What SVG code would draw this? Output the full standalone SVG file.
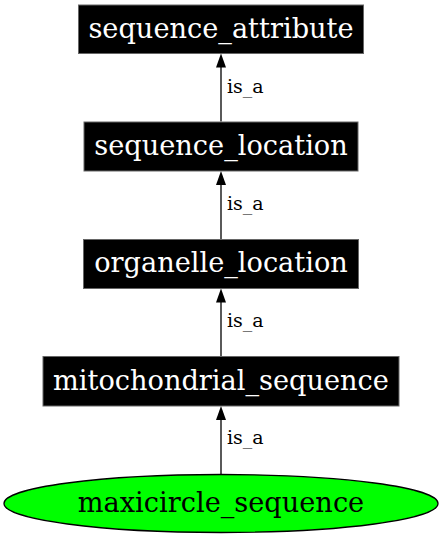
<svg xmlns="http://www.w3.org/2000/svg" width="443" height="536" viewBox="0 0 443 536">
<defs>
<style>
.box{fill:#000;stroke:#666;stroke-width:1}
.nt{font-family:"DejaVu Serif",serif;font-size:27.2px;fill:#fff;text-anchor:middle}
.et{font-family:"DejaVu Serif",serif;font-size:19px;fill:#000}
.edge{stroke:#000;stroke-width:1.3;fill:none}
</style>
</defs>
<rect width="443" height="536" fill="#fff"/>
<g id="connectors">
<path class="edge" d="M221,121.5 L221,67" />
<path d="M216,67.5 L221,53.5 L226,67.5 Z" fill="#000"/>
<text class="et" x="227" y="93">is_a</text>
<path class="edge" d="M221,239 L221,184.5" />
<path d="M216,185 L221,171 L226,185 Z" fill="#000"/>
<text class="et" x="227" y="210">is_a</text>
<path class="edge" d="M221,356.5 L221,302" />
<path d="M216,302.5 L221,288.5 L226,302.5 Z" fill="#000"/>
<text class="et" x="227" y="327">is_a</text>
<path class="edge" d="M221,474 L221,419.5" />
<path d="M216,420 L221,406 L226,420 Z" fill="#000"/>
<text class="et" x="227" y="444">is_a</text>
</g>
<g id="sequence_attribute">
<rect class="box" x="78.5" y="5" width="285" height="48.5"/>
<text class="nt" x="221" y="38">sequence_attribute</text>
</g>
<g id="sequence_location">
<rect class="box" x="84" y="122" width="274" height="49"/>
<text class="nt" x="221" y="155">sequence_location</text>
</g>
<g id="organelle_location">
<rect class="box" x="83.5" y="239.5" width="275" height="49"/>
<text class="nt" x="221" y="272">organelle_location</text>
</g>
<g id="mitochondrial_sequence">
<rect class="box" x="43" y="356.5" width="356" height="49.5"/>
<text class="nt" x="221" y="389.5">mitochondrial_sequence</text>
</g>
<g id="maxicircle_sequence">
<ellipse cx="221" cy="503.5" rx="217" ry="29" fill="#00ff00" stroke="#000" stroke-width="1.3"/>
<text class="nt" x="221" y="512" style="fill:#000">maxicircle_sequence</text>
</g>
</svg>
